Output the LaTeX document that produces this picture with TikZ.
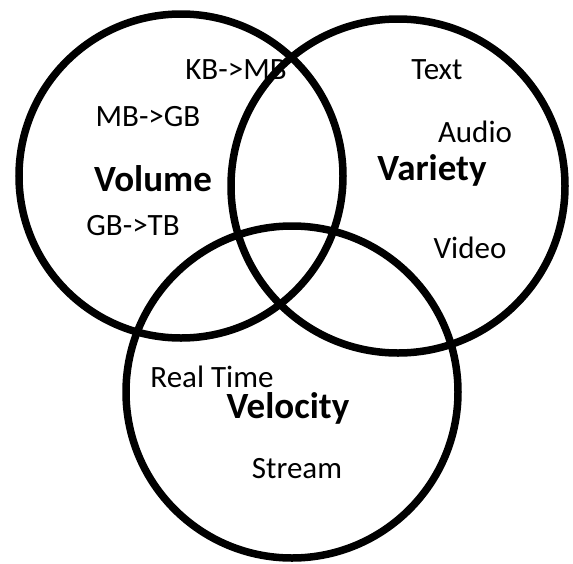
\documentclass[tikz,border=0pt]{standalone}
\usepackage{fontspec}
\setmainfont{Carlito}
\usetikzlibrary{positioning}

\begin{document}
\begin{tikzpicture}[x=1pt,y=-1pt,
 ring/.style={line width=7.5pt},
 item/.style={font=\fontsize{31}{36}\selectfont,inner sep=0pt},
 title/.style={font=\fontsize{37}{44}\selectfont\bfseries,inner sep=0pt}]
\useasboundingbox (0,0) rectangle (573,563);
\coordinate (Vol) at (181,176);
\coordinate (Var) at (398,186);
\coordinate (Vel) at (292,392);
\draw [ring] (Vol) circle (162pt);
\draw [ring] (Var) circle (167pt);
\draw [ring] (Vel) circle (166pt);
% volume
\node [title] (volume) at (153,179) {Volume};
\node [item] (kbmb) at (236,70) {KB->MB};
\node [item] (mbgb) at (148,117) {MB->GB};
\node [item] (gbtb) at (133,226) {GB->TB};
% variety
\node [title] (variety) at (432,170) {Variety};
\node [item] (text) at (437,70) {Text};
\node [item] (audio) at (475,132) {Audio};
\node [item] (video) at (470,248) {Video};
% velocity
\node [title] (velocity) at (288,408) {Velocity};
\node [item] (realtime) at (212,377) {Real Time};
\node [item] (stream) at (297,469) {Stream};
\end{tikzpicture}
\end{document}
